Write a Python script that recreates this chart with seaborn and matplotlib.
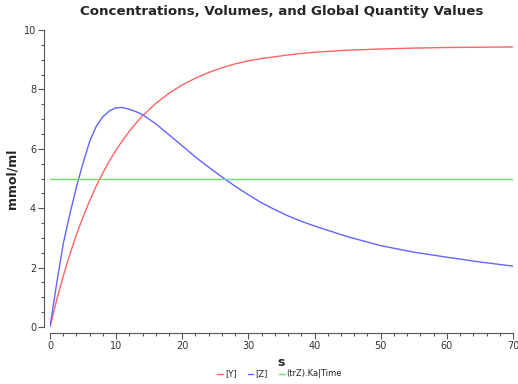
import numpy as np
import pandas as pd
import matplotlib
matplotlib.use("Agg")
import matplotlib.pyplot as plt
import seaborn as sns
from matplotlib.ticker import MultipleLocator

# Data
time = [0, 1, 2, 3, 4, 5, 6, 7, 8, 9, 10, 11, 12, 13, 14, 16, 18, 20, 22, 24,
        26, 28, 30, 32, 34, 36, 38, 40, 45, 50, 55, 60, 65, 70]
conc_y = [0.0, 0.90, 1.71, 2.44, 3.11, 3.71, 4.25, 4.75, 5.19, 5.60, 5.96, 6.29,
          6.59, 6.86, 7.11, 7.53, 7.87, 8.15, 8.38, 8.57, 8.73, 8.86, 8.96, 9.04,
          9.10, 9.16, 9.21, 9.25, 9.32, 9.36, 9.39, 9.41, 9.42, 9.43]
conc_z = [0.0, 1.45, 2.80, 3.80, 4.72, 5.52, 6.25, 6.76, 7.08, 7.28, 7.38, 7.39,
          7.33, 7.25, 7.15, 6.84, 6.47, 6.10, 5.72, 5.38, 5.05, 4.74, 4.45, 4.18,
          3.95, 3.74, 3.56, 3.40, 3.04, 2.74, 2.52, 2.35, 2.19, 2.05]
ka_time = [5.0] * len(time)

series_names = ["[Y]", "[Z]", "(trZ).Ka|Time"]
colors = ["#ff6464", "#6464ff", "#64e664"]

df = pd.DataFrame({
    "s": time * 3,
    "value": conc_y + conc_z + ka_time,
    "series": [series_names[0]] * len(time) + [series_names[1]] * len(time)
              + [series_names[2]] * len(time),
})

sns.set_theme(style="ticks")
plt.rcParams["font.family"] = ["DejaVu Sans"]

fig = plt.figure(figsize=(5.18, 3.84), dpi=100)
ax = fig.add_axes([0.0965, 0.1484, 0.8938, 0.7735])

sns.lineplot(data=df, x="s", y="value", hue="series", palette=colors,
             linewidth=1.0, ax=ax)

ax.set_xlim(0, 70)
ax.set_ylim(0, 10)
ax.xaxis.set_major_locator(MultipleLocator(10))
ax.xaxis.set_minor_locator(MultipleLocator(2))
ax.yaxis.set_major_locator(MultipleLocator(2))
ax.yaxis.set_minor_locator(MultipleLocator(0.5))
ax.tick_params(which="major", length=4, width=0.8, color="#555555",
               labelsize=7, labelcolor="#333333", pad=2)
ax.tick_params(which="minor", length=2.5, width=0.8, color="#555555")

sns.despine(ax=ax, offset=4)
for sp in ("left", "bottom"):
    ax.spines[sp].set_color("#555555")
    ax.spines[sp].set_linewidth(0.8)

ax.set_xlabel("s", fontsize=9, fontweight="bold", labelpad=4)
ax.set_ylabel("mmol/ml", fontsize=9, fontweight="bold", labelpad=4)
ax.set_title("Concentrations, Volumes, and Global Quantity Values",
             fontsize=9.6, fontweight="bold", pad=11)

sns.move_legend(ax, "lower center", bbox_to_anchor=(0.54, -0.005),
                bbox_transform=fig.transFigure, ncol=3, frameon=False,
                title=None, fontsize=6, handlelength=0.7, handletextpad=0.25,
                columnspacing=1.3)

fig.savefig("out.png", dpi=100)
